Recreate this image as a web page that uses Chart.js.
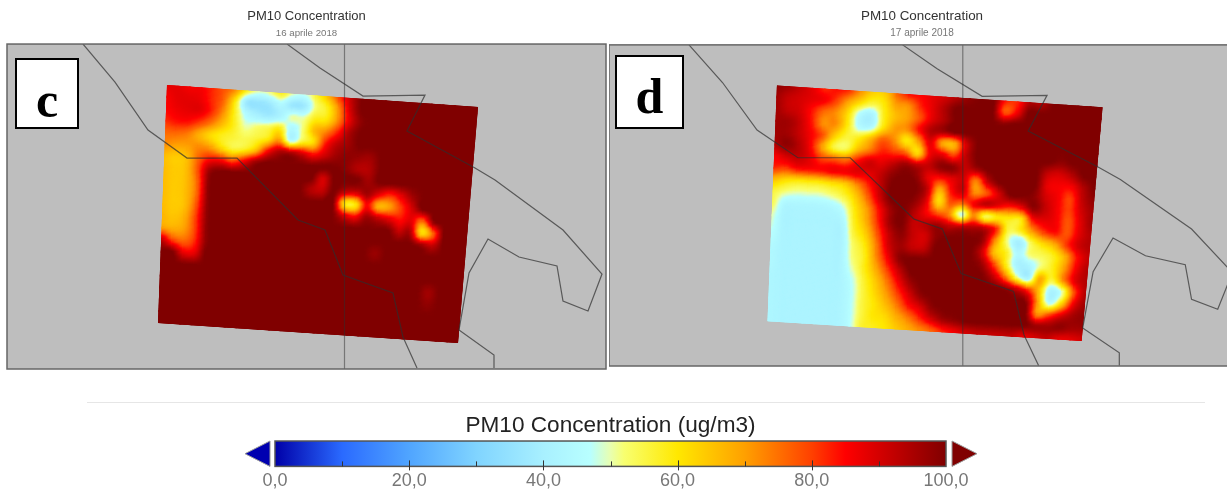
<!DOCTYPE html>
<html lang="it">
<head>
  <meta charset="UTF-8">
  <title>PM10 Concentration</title>
  <script src="https://cdn.jsdelivr.net/npm/chart.js"></script>
  <style>
    html, body {
      margin: 0;
      background: #fff;
      overflow: hidden;
    }

    body {
      position: relative;
      width: 1227px;
      height: 492px;
    }

    canvas {
      position: absolute;
    }

    #panelC { left: 0; top: 0; }
    #panelD { left: 609px; top: 0; }
    #legend { left: 0; top: 400px; }

    .letter {
      position: absolute;
      box-sizing: border-box;
      background: #fff;
      border: 2px solid #000;
      color: #000;
      font: bold 50px "Liberation Serif", serif;
      text-align: center;
    }

    #sep {
      position: absolute;
      left: 87px;
      top: 402px;
      width: 1118px;
      height: 1px;
      background: #e6e6e6;
    }
  </style>
</head>
<body>
  <canvas id="panelC" width="607" height="370"></canvas>
  <canvas id="panelD" width="626" height="367"></canvas>
  <div id="sep"></div>
  <canvas id="legend" width="1227" height="96"></canvas>
  <div class="letter" style="left:15px;top:58px;width:64px;height:71px;line-height:80px">c</div>
  <div class="letter" style="left:615px;top:55px;width:69px;height:74px;line-height:78px">d</div>

  <script>
// colour scale
const scaleValues = [0, 10, 20, 30, 40, 47, 50, 52, 60, 70, 80, 85, 100];
const scaleColors = ["#0000a8", "#2a6aff", "#50a5ff", "#80d4ff", "#a8f0ff", "#b8ffff", "#e8ffb0", "#f8ff70", "#ffe800", "#ffa000", "#ff4000", "#ff0000", "#800000"];
const majorTicks = [0, 20, 40, 60, 80, 100];
const minorTicks = [10, 30, 50, 70, 90];

const chartTitle = "PM10 Concentration";
const legendTitle = "PM10 Concentration (ug/m3)";
const dateC = "16 aprile 2018";
const dateD = "17 aprile 2018";

// model domain corners in map units: top left, top right, bottom right, bottom left
const domainCorners = [[160, 41], [471, 63], [451, 299], [151, 279]];

// map lines in map units
const coastWest = [[76, 0], [108, 38], [141, 86], [180, 114], [230, 114], [291, 176], [318, 186], [336, 231], [386, 249], [396, 293], [410, 324]];
const coastEast = [[280, 0], [313, 24], [356, 52], [418, 51], [400, 87], [468, 124], [488, 136], [556, 186], [595, 230], [581, 267], [556, 257], [550, 222], [512, 213], [481, 195], [462, 229], [452, 286], [487, 311], [487, 324]];
const meridian = [[337.5, 0], [337.5, 325]];

// PM10, rows from north to south
const fieldC = [
  [88,88,86,86,82,78,72,58,50,52,58,50,48,56,66,80,92,100,100,100,100,100,100,100,100,100,100,100],
  [86,88,88,87,82,76,60,38,36,38,44,37,38,52,58,72,90,100,100,100,100,100,100,100,100,100,100,100],
  [85,87,88,88,82,72,58,45,40,38,42,50,50,58,60,72,88,98,100,100,100,100,100,100,100,100,100,100],
  [82,84,84,80,74,66,58,50,52,54,58,44,52,66,72,82,94,100,100,100,100,100,100,100,100,100,100,100],
  [76,76,74,68,62,58,56,54,56,60,70,46,56,62,82,92,96,100,100,100,100,100,100,100,100,100,100,100],
  [72,70,70,72,70,62,56,58,66,84,94,94,90,84,90,96,98,97,96,100,100,100,100,100,100,100,100,100],
  [66,64,66,76,84,84,78,86,96,100,100,100,100,100,100,100,98,94,94,100,100,100,100,100,100,100,100,100],
  [66,64,66,78,96,100,100,100,100,100,100,100,100,100,90,100,100,100,96,100,100,100,100,100,100,100,100,100],
  [66,64,66,76,98,100,100,100,100,100,100,100,100,94,92,100,92,90,96,88,82,88,96,100,100,100,100,100],
  [66,64,66,76,98,100,100,100,100,100,100,100,100,100,100,100,62,60,85,68,70,80,90,100,100,100,100,100],
  [66,64,66,78,98,100,100,100,100,100,100,100,100,100,100,100,90,85,96,92,88,84,88,76,98,100,100,100],
  [67,65,68,80,98,100,100,100,100,100,100,100,100,100,100,100,100,100,100,100,100,92,94,62,76,100,100,100],
  [70,68,70,80,98,100,100,100,100,100,100,100,100,100,100,100,100,100,100,100,100,100,100,96,92,100,100,100],
  [92,80,76,82,98,100,100,100,100,100,100,100,100,100,100,100,100,100,100,97,100,100,100,100,100,100,100,100],
  [100,100,88,88,100,100,100,100,100,100,100,100,100,100,100,100,100,100,100,100,100,100,100,100,100,100,100,100],
  [100,100,100,100,100,100,100,100,100,100,100,100,100,100,100,100,100,100,100,100,100,100,100,100,100,100,100,100],
  [100,100,100,100,100,100,100,100,100,100,100,100,100,100,100,100,100,100,100,100,100,100,100,100,96,100,100,100],
  [100,100,100,100,100,100,100,100,100,100,100,100,100,100,100,100,100,100,100,100,100,100,100,100,98,100,100,100],
  [100,100,100,100,100,100,100,100,100,100,100,100,100,100,100,100,100,100,100,100,100,100,100,100,100,100,100,100],
  [100,100,100,100,100,100,100,100,100,100,100,100,100,100,100,100,100,100,100,100,100,100,100,100,100,100,100,100],
  [100,100,100,100,100,100,100,100,100,100,100,100,100,100,100,100,100,100,100,100,100,100,100,100,100,100,100,100]
];

const fieldD = [
  [98,96,92,88,82,84,82,72,64,64,76,84,85,88,90,94,98,100,100,84,82,94,94,100,100,100,100,100],
  [96,92,90,88,86,80,70,62,56,60,70,72,82,88,94,100,100,100,100,78,86,100,100,100,100,100,100,100],
  [96,92,90,84,76,72,62,46,42,58,66,70,78,88,94,100,100,100,100,98,100,100,100,100,100,100,100,100],
  [96,96,92,84,72,72,60,45,44,60,70,72,84,94,96,100,100,100,100,100,100,100,100,100,100,100,100,100],
  [96,96,92,86,78,64,56,58,66,76,72,60,70,88,70,68,90,100,100,100,100,100,100,100,100,100,100,100],
  [94,98,94,86,70,56,54,66,74,82,80,76,62,86,88,80,92,100,100,100,100,100,100,100,98,100,100,100],
  [86,90,92,88,80,78,76,84,90,88,92,96,92,92,98,98,92,96,100,100,100,100,100,92,90,94,100,100],
  [82,80,84,84,84,86,86,88,88,92,98,100,98,88,84,88,90,74,92,100,100,100,100,88,86,86,94,100],
  [66,62,60,60,60,62,64,72,82,92,100,100,100,92,68,84,90,72,78,90,100,100,98,90,86,80,92,98],
  [56,52,50,50,50,52,56,64,76,90,100,100,98,88,62,78,76,86,92,88,84,88,98,92,86,80,90,96],
  [54,44,43,43,43,44,48,60,70,84,96,100,94,86,78,72,48,72,55,60,60,60,84,88,86,78,88,96],
  [50,42,42,42,42,42,44,58,68,82,96,100,92,93,96,92,92,94,92,82,56,58,70,80,84,78,88,94],
  [48,42,42,42,42,42,42,56,64,78,92,98,92,90,98,100,100,100,96,72,52,40,54,62,68,80,90,94],
  [46,42,42,42,42,42,42,53,60,74,90,96,92,92,100,100,100,100,90,66,58,44,52,54,58,68,84,92],
  [44,42,42,42,42,42,42,52,58,72,86,98,100,100,100,100,100,100,96,80,60,42,42,52,58,70,86,94],
  [44,42,42,42,42,42,42,50,58,68,80,92,100,100,100,100,100,100,100,92,76,54,42,68,56,72,88,94],
  [43,42,42,42,42,42,42,47,56,64,74,86,96,100,100,100,100,100,100,100,98,92,82,66,42,50,78,94],
  [43,42,42,42,42,42,42,46,55,62,70,80,90,98,100,100,100,100,100,100,100,100,98,70,46,62,86,96],
  [43,42,42,42,42,42,42,46,55,60,66,74,84,90,98,100,100,100,100,100,100,100,100,72,78,88,95,98],
  [43,42,42,42,42,42,42,46,55,60,62,68,74,82,90,96,98,100,100,100,100,100,100,96,96,98,96,96],
  [43,42,42,42,42,42,42,46,56,58,60,64,68,72,76,82,86,90,92,92,92,92,88,90,92,88,88,90]
];

function hexToRgb(hex) {
  return [1, 3, 5].map(k => parseInt(hex.slice(k, k + 2), 16));
}

// lookup table so the field does not have to search the stops for every sample
const lut = [];
for (let n = 0; n <= 1000; n++) {
  const v = n / 10;
  let k = 0;
  while (k < scaleValues.length - 2 && v > scaleValues[k + 1]) k++;
  const t = (v - scaleValues[k]) / (scaleValues[k + 1] - scaleValues[k]);
  const a = hexToRgb(scaleColors[k]);
  const b = hexToRgb(scaleColors[k + 1]);
  lut.push(`rgb(${a.map((c, m) => Math.round(c + (b[m] - c) * t)).join(",")})`);
}

// one point per grid cell, placed on the tilted model domain
function gridPoints(rows) {
  const points = [];
  const [tl, tr, br, bl] = domainCorners;
  const ny = rows.length - 1;
  rows.forEach((row, j) => {
    const nx = row.length - 1;
    row.forEach((v, i) => {
      const u = i / nx, w = j / ny;
      points.push({
        x: (1 - w) * ((1 - u) * tl[0] + u * tr[0]) + w * ((1 - u) * bl[0] + u * br[0]),
        y: (1 - w) * ((1 - u) * tl[1] + u * tr[1]) + w * ((1 - u) * bl[1] + u * br[1]),
        v: v
      });
    });
  });
  return points;
}

function cubic(a, b, c, d, t) {
  return b + 0.5 * t * (c - a + t * (2 * a - 5 * b + 4 * c - d + t * (3 * (b - c) + d - a)));
}

// paints the grid dataset as a smooth field, positions come from the chart's elements
const fieldPlugin = {
  id: "field",
  beforeDatasetsDraw(chart) {
    const rows = chart.options.plugins.field.rows;
    const els = chart.getDatasetMeta(0).data;
    const nx = rows[0].length, ny = rows.length;
    const el = (i, j) => els[j * nx + i];
    const val = (i, j) => rows[Math.max(0, Math.min(ny - 1, j))][Math.max(0, Math.min(nx - 1, i))];
    const ctx = chart.ctx;
    const sub = 10;

    ctx.save();
    ctx.beginPath();
    [el(0, 0), el(nx - 1, 0), el(nx - 1, ny - 1), el(0, ny - 1)].forEach(p => ctx.lineTo(p.x, p.y));
    ctx.closePath();
    ctx.clip();

    for (let j = 0; j < ny - 1; j++) {
      for (let i = 0; i < nx - 1; i++) {
        const p00 = el(i, j), p10 = el(i + 1, j), p01 = el(i, j + 1), p11 = el(i + 1, j + 1);
        for (let b = 0; b <= sub; b++) {
          const w = b / sub;
          const col = [];
          for (let m = -1; m <= 2; m++) {
            col.push(cubic(val(i + m, j - 1), val(i + m, j), val(i + m, j + 1), val(i + m, j + 2), w));
          }
          for (let a = 0; a <= sub; a++) {
            const u = a / sub;
            const v = Math.max(0, Math.min(100, cubic(col[0], col[1], col[2], col[3], u)));
            const x = (1 - w) * ((1 - u) * p00.x + u * p10.x) + w * ((1 - u) * p01.x + u * p11.x);
            const y = (1 - w) * ((1 - u) * p00.y + u * p10.y) + w * ((1 - u) * p01.y + u * p11.y);
            ctx.fillStyle = lut[Math.round(v * 10)];
            ctx.fillRect(x - 1.1, y - 1.1, 2.2, 2.2);
          }
        }
      }
    }
    ctx.restore();
  }
};

// grey map background and frame
const framePlugin = {
  id: "frame",
  beforeDraw(chart) {
    const a = chart.chartArea;
    chart.ctx.fillStyle = "#bebebe";
    chart.ctx.fillRect(a.left, a.top, a.right - a.left, a.bottom - a.top);
  },
  afterDraw(chart) {
    const a = chart.chartArea;
    chart.ctx.strokeStyle = "#666";
    chart.ctx.lineWidth = 1.5;
    chart.ctx.strokeRect(a.left, a.top, a.right - a.left, a.bottom - a.top);
  }
};

function lineSet(points, color) {
  return {
    data: points.map(p => ({ x: p[0], y: p[1] })),
    showLine: true,
    pointRadius: 0,
    borderColor: color,
    borderWidth: 1.2,
    tension: 0
  };
}

function makePanel(id, rows, date, xRange, yMax, fonts, pad) {
  return new Chart(document.getElementById(id), {
    type: "scatter",
    data: {
      datasets: [
        { data: gridPoints(rows), pointRadius: 0 },
        lineSet(coastWest, "rgba(45,45,45,0.7)"),
        lineSet(coastEast, "rgba(45,45,45,0.7)"),
        lineSet(meridian, "rgba(45,45,45,0.5)")
      ]
    },
    options: {
      responsive: false,
      animation: false,
      layout: { padding: pad },
      scales: {
        x: { display: false, min: xRange[0], max: xRange[1] },
        y: { display: false, min: 0, max: yMax, reverse: true }
      },
      plugins: {
        field: { rows: rows },
        legend: { display: false },
        tooltip: { enabled: false },
        title: {
          display: true,
          text: chartTitle,
          color: "#333",
          font: { family: "Liberation Sans", size: fonts[0], weight: "normal" },
          padding: { top: 8.2, bottom: 3.4 }
        },
        subtitle: {
          display: true,
          text: date,
          color: "#777",
          font: { family: "Liberation Sans", size: fonts[1], weight: "normal" },
          padding: { top: 0, bottom: 5.2 }
        }
      }
    },
    plugins: [framePlugin, fieldPlugin]
  });
}

makePanel("panelC", fieldC, dateC, [0, 599], 325, [13, 9.7], { left: 7, right: 1, bottom: 1 });
makePanel("panelD", fieldD, dateD, [-0.4, 597.5], 324.3, [13.4, 10], { left: 0, right: 0, bottom: 1 });

// colour bar ticks and the two end arrows
const barExtras = {
  id: "barExtras",
  afterDraw(chart) {
    const ctx = chart.ctx;
    const s = chart.scales.x;
    const a = chart.chartArea;

    ctx.strokeStyle = "#555";
    ctx.lineWidth = 1.5;
    ctx.strokeRect(a.left, a.top, a.right - a.left, a.bottom - a.top);

    ctx.strokeStyle = "#333";
    ctx.lineWidth = 1;
    minorTicks.forEach(v => {
      const x = Math.round(s.getPixelForValue(v)) + 0.5;
      ctx.beginPath();
      ctx.moveTo(x, a.bottom - 5);
      ctx.lineTo(x, a.bottom);
      ctx.stroke();
    });
    majorTicks.slice(1, -1).forEach(v => {
      const x = Math.round(s.getPixelForValue(v)) + 0.5;
      ctx.beginPath();
      ctx.moveTo(x, a.bottom - 6);
      ctx.lineTo(x, a.bottom + 4);
      ctx.stroke();
    });

    const arrow = (baseX, tipX, color) => {
      ctx.beginPath();
      ctx.moveTo(baseX, a.top);
      ctx.lineTo(tipX, (a.top + a.bottom) / 2);
      ctx.lineTo(baseX, a.bottom);
      ctx.closePath();
      ctx.fillStyle = color;
      ctx.fill();
      ctx.strokeStyle = "#999";
      ctx.lineWidth = 1;
      ctx.stroke();
    };
    arrow(a.left - 5, a.left - 30, "#0000b0");
    arrow(a.right + 6, a.right + 31, "#800000");
  }
};

new Chart(document.getElementById("legend"), {
  type: "bar",
  data: {
    labels: [legendTitle],
    datasets: [{
      data: [[0, 100]],
      barPercentage: 1,
      categoryPercentage: 1,
      backgroundColor(c) {
        const area = c.chart.chartArea;
        if (!area) return scaleColors[0];
        const g = c.chart.ctx.createLinearGradient(area.left, 0, area.right, 0);
        scaleValues.forEach((v, k) => g.addColorStop(v / 100, scaleColors[k]));
        return g;
      }
    }]
  },
  options: {
    indexAxis: "y",
    responsive: false,
    animation: false,
    layout: { padding: { left: 275, right: 281, bottom: 0 } },
    scales: {
      x: {
        min: 0,
        max: 100,
        grid: { display: false, drawTicks: false },
        border: { display: false },
        afterBuildTicks(axis) {
          axis.ticks = majorTicks.map(v => ({ value: v }));
        },
        ticks: {
          color: "#777",
          padding: 4,
          maxRotation: 0,
          font: { family: "Liberation Sans", size: 18 },
          callback: v => v.toFixed(1).replace(".", ",")
        }
      },
      y: { display: false }
    },
    plugins: {
      legend: { display: false },
      tooltip: { enabled: false },
      title: {
        display: true,
        text: legendTitle,
        color: "#222",
        font: { family: "Liberation Sans", size: 22.6, weight: "normal" },
        padding: { top: 12.5, bottom: 1.4 }
      }
    }
  },
  plugins: [barExtras]
});
  </script>
</body>
</html>
